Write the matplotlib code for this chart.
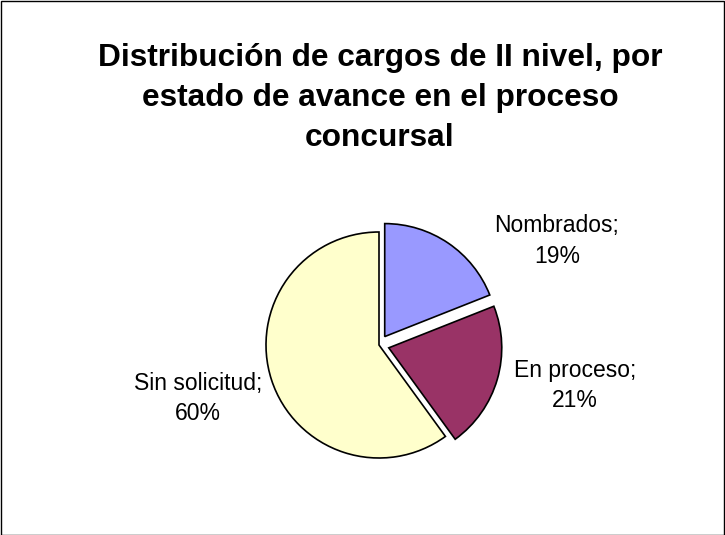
import matplotlib.pyplot as plt
from matplotlib.patches import Rectangle

categories = ["Nombrados", "En proceso", "Sin solicitud"]
values = [19, 21, 60]
colors = ["#9999FF", "#993366", "#FFFFCC"]
explode = [0.09, 0.09, 0]

title_lines = ["Distribución de cargos de II nivel, por",
               "estado de avance en el proceso",
               "concursal"]

plt.rcParams['font.family'] = ['Liberation Sans', 'DejaVu Sans']

W, H = 725, 535
cx, cy, r = 379, 345, 113  # pie centre and radius in pixels

# label centre x and baselines of the two lines (pixels)
label_x = [557, 575, 198]
label_base = [(232, 263), (377, 407), (390, 420)]

fig = plt.figure(figsize=(W / 100, H / 100), dpi=100)
ax = fig.add_axes([0, 0, 1, 1])

ax.pie(values, colors=colors, explode=explode, startangle=90, counterclock=False,
       wedgeprops=dict(edgecolor='black', linewidth=1.2))

def to_data(px, py):
    return (px - cx) / r, (cy - py) / r

for cat, v, lx, (b1, b2) in zip(categories, values, label_x, label_base):
    x, y = to_data(lx, b1)
    ax.text(x, y, f"{cat};", ha='center', va='baseline', fontsize=16.5)
    x, y = to_data(lx, b2)
    ax.text(x, y, f"{v}%", ha='center', va='baseline', fontsize=16.5)

ax.set_aspect('auto')
ax.set_xlim(-cx / r, (W - cx) / r)
ax.set_ylim(-(H - cy) / r, cy / r)
ax.axis('off')

for line, base in zip(title_lines, [66, 106, 146]):
    fig.text(380 / W, 1 - base / H, line, ha='center', va='baseline',
             fontsize=22.8, fontweight='bold')

fig.patches.append(Rectangle((0.5 / W, 0.5 / H), 1 - 1.5 / W, 1 - 1.5 / H,
                             transform=fig.transFigure, fill=False,
                             edgecolor='black', linewidth=1))

fig.savefig("out.png", dpi=100)
